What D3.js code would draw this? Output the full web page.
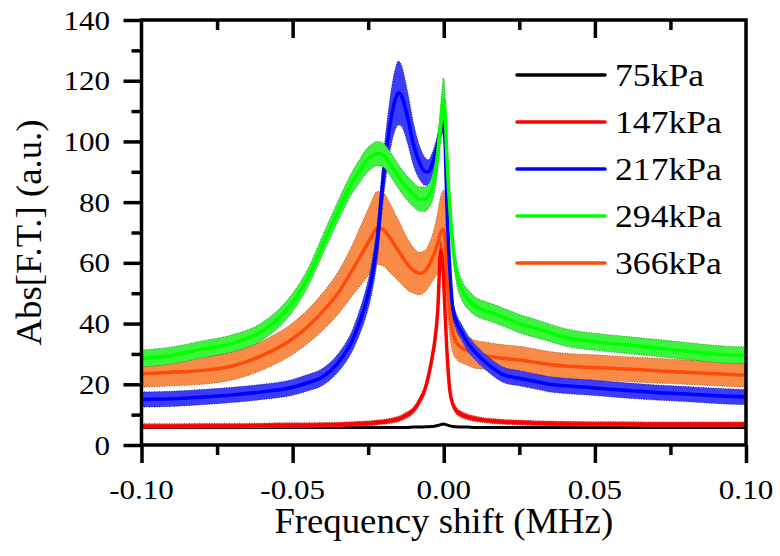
<!DOCTYPE html>
<html>
<head>
<meta charset="utf-8">
<script src="https://cdn.jsdelivr.net/npm/d3@7"></script>
<style>
  html, body { margin: 0; padding: 0; background: #fff; }
  svg { display: block; }
</style>
</head>
<body>
<svg id="chart" width="780" height="556"></svg>
<script>
// ---------------- data ----------------
const freq = [-0.10,-0.09,-0.08,-0.07,-0.06,-0.05,-0.045,-0.04,-0.035,-0.03,-0.028,-0.026,-0.024,-0.022,-0.020,-0.018,-0.016,-0.015,-0.014,-0.012,-0.010,-0.008,-0.006,-0.005,-0.004,-0.003,-0.002,-0.001,0,0.0005,0.001,0.002,0.003,0.004,0.006,0.008,0.010,0.013,0.016,0.02,0.025,0.03,0.035,0.04,0.05,0.06,0.07,0.08,0.09,0.10];

const mean75 = [5.8,5.8,5.8,5.8,5.8,5.8,5.8,5.8,5.8,5.8,5.8,5.8,5.8,5.8,5.8,5.8,5.8,5.8,5.8,5.8,5.9,5.9,6.0,6.0,6.1,6.2,6.4,6.7,6.9,6.8,6.6,6.3,6.1,6.0,5.9,5.9,5.8,5.8,5.8,5.8,5.8,5.8,5.8,5.8,5.8,5.8,5.8,5.8,5.8,5.8];

const mean147 = [6.2,6.2,6.3,6.3,6.4,6.5,6.5,6.6,6.7,6.9,7.0,7.1,7.2,7.4,7.6,7.9,8.3,8.6,9.0,10.0,11.5,14.5,19,23,28,34,44,64,54,42,32,18,13.5,11.5,10,9.2,8.7,8.2,7.9,7.6,7.4,7.2,7.1,7.0,6.9,6.9,6.8,6.8,6.8,6.8];
const err147 = [0.8,0.8,0.8,0.8,0.8,0.8,0.8,0.8,0.8,0.8,0.8,0.8,0.8,0.8,0.8,0.8,0.9,0.9,0.9,1.0,1.0,1.2,1.4,1.6,1.8,2.0,2.4,3.2,3.0,2.6,2.2,1.6,1.3,1.1,1.0,0.9,0.9,0.8,0.8,0.8,0.8,0.8,0.8,0.8,0.8,0.8,0.8,0.8,0.8,0.8];

const mean217 = [15,15.2,15.8,16.5,17.5,19,20.5,22.5,27,35,40,46,54,67,88,104,114,116,115,108,99,93,90,90,92,95,99,104,106,98,80,58,45,41,37,33.5,31,28,25.5,23,22,21,20,19.5,18.8,18,17.3,16.8,16.2,15.8];
const err217 = [2.5,2.5,2.5,2.5,2.5,2.6,2.7,2.8,3,3.5,4,4.5,5,6,7,8.5,10,10.5,10,8.5,7,5.5,4.5,4,3.8,3.6,3.4,3.2,3,3,3,2.8,2.8,2.7,2.6,2.6,2.5,2.5,2.5,2.5,2.5,2.5,2.5,2.5,2.5,2.5,2.5,2.5,2.5,2.5];

const mean294 = [28.5,29.5,31.5,33.5,37.5,47,55,66,77,87,90,93,95,96,95.5,93,90,88.5,87,84.5,82.5,81,81,82,84,88,96,106,114,108,96,78,66,58,51,48,46,44.5,43.5,42,40,38.5,37,35.5,34,33,32,31,30,29.5];
const err294 = [2.8,2.8,2.8,2.8,2.9,3,3,3.2,3.4,3.6,3.8,4,4,4,4,4,4,4,4,4,4,4,4,4,4.2,4.5,5,6,7,6.5,5.5,4.5,4,3.6,3.3,3.2,3.1,3,3,3,3,3,2.9,2.9,2.8,2.8,2.8,2.8,2.8,2.8];

const mean366 = [23.5,24,24.5,26,29.5,35,39,44,50,58,61.5,65,68.5,71.5,71,68.5,65.5,64,62.5,59.5,57.5,56.5,57.5,59,61,63.5,66.5,70,71,66,56,44,37,34,32,31,30,29.5,29,28.5,28,27.3,26.5,26,25.5,25,24.5,24,23.5,23];
const err366 = [4.5,4.5,4.5,4.6,4.8,5.2,5.6,6.2,7,8.5,9.5,10.5,11.5,12,12,11.5,10.5,10,9.5,8.5,7.5,7,6.8,7,7.5,8.5,10,12,13,12,10,8,6.5,5.5,5,4.8,4.6,4.5,4.5,4.5,4.5,4.4,4.3,4.2,4.2,4.1,4.1,4,4,4];

const seriesNames = ["75kPa","147kPa","217kPa","294kPa","366kPa"];
const lineColors  = ["#000000","#ff0000","#0000ff","#00ff00","#ff4a0a"];
const bandColors  = [null,"#ff3a3a","#3c3cff","#3cf43c","#f98b48"];
const edgeColors  = [null,"#8a0000","#00006a","#1a6a1a","#8a3a10"];

const xTicks = [-0.10,-0.05,0.00,0.05,0.10];
const xMinor = [-0.075,-0.025,0.025,0.075];
const yTicks = [0,20,40,60,80,100,120,140];
const yMinor = [10,30,50,70,90,110,130];
const xTitle = "Frequency shift (MHz)";
const yTitle = "Abs[F.T.] (a.u.)";

// ---------------- layout ----------------
const FONT = "\"Liberation Serif\", \"Times New Roman\", Times, serif";
const svg = d3.select("#chart");
const L = 141.5, R = 746, T = 20, B = 445;
const SX = 1.15; // horizontal stretch of text in the reference
const x = d3.scaleLinear().domain([-0.10, 0.10]).range([L, R]);
const y = d3.scaleLinear().domain([0, 140]).range([B, T]);

svg.append("defs").append("clipPath").attr("id","clip")
  .append("rect").attr("x",L).attr("y",T).attr("width",R-L).attr("height",B-T);

const plot = svg.append("g").attr("clip-path","url(#clip)");

const means = [mean75, mean147, mean217, mean294, mean366];
const errs  = [null, err147, err217, err294, err366];

function rows(i){ return freq.map((f,k)=>({f, m: means[i][k], e: errs[i] ? errs[i][k] : 0})); }

const area = d3.area().curve(d3.curveMonotoneX)
  .x(d=>x(d.f)).y0(d=>y(d.m-d.e)).y1(d=>y(d.m+d.e));
const edgeTop = d3.line().curve(d3.curveMonotoneX).x(d=>x(d.f)).y(d=>y(d.m+d.e));
const edgeBot = d3.line().curve(d3.curveMonotoneX).x(d=>x(d.f)).y(d=>y(d.m-d.e));
const line = d3.line().curve(d3.curveMonotoneX).x(d=>x(d.f)).y(d=>y(d.m));

const order = [0,4,2,3,1];
order.forEach(i=>{
  const d = rows(i);
  const g = plot.append("g");
  if (errs[i]) {
    g.append("path").datum(d).attr("d",area).attr("fill",bandColors[i]).attr("stroke","none");
    [edgeTop, edgeBot].forEach(fn=>{
      g.append("path").datum(d).attr("d",fn).attr("fill","none")
        .attr("stroke",edgeColors[i]).attr("stroke-width",0.8).attr("stroke-dasharray","1,1.5");
    });
  }
  g.append("path").datum(d).attr("d",line).attr("fill","none")
    .attr("stroke",lineColors[i]).attr("stroke-width", i===0 ? 3 : 3.5)
    .attr("stroke-linejoin","round");
});

// ---------------- axes ----------------
const axW = 3.5;
function styleAxis(g){
  g.select(".domain").remove();
  g.selectAll(".tick line").attr("stroke","#000").attr("stroke-width",axW);
  g.selectAll(".tick text").remove();
}
svg.append("g").attr("transform",`translate(0,${B})`)
  .call(d3.axisBottom(x).tickValues(xTicks).tickSize(18)).call(styleAxis);
svg.append("g").attr("transform",`translate(0,${B})`)
  .call(d3.axisBottom(x).tickValues(xMinor).tickSize(10)).call(styleAxis);
svg.append("g").attr("transform",`translate(0,${T})`)
  .call(d3.axisTop(x).tickValues(xTicks.slice(1,-1)).tickSize(-18)).call(styleAxis);
svg.append("g").attr("transform",`translate(0,${T})`)
  .call(d3.axisTop(x).tickValues(xMinor).tickSize(-10)).call(styleAxis);
svg.append("g").attr("transform",`translate(${L},0)`)
  .call(d3.axisLeft(y).tickValues(yTicks).tickSize(18)).call(styleAxis);
svg.append("g").attr("transform",`translate(${L},0)`)
  .call(d3.axisLeft(y).tickValues(yMinor).tickSize(10)).call(styleAxis);

svg.append("rect").attr("x",L).attr("y",T).attr("width",R-L).attr("height",B-T)
  .attr("fill","none").attr("stroke","#000").attr("stroke-width",axW);

function txt(sel){ return sel.style("font-family",FONT).attr("fill","#000"); }

// tick labels
const fmt = v => d3.format(".2f")(v).replace("\u2212","-");
xTicks.forEach(v=>{
  svg.append("text").call(txt).attr("transform",`translate(${x(v)},499) scale(${SX},1)`)
    .attr("text-anchor","middle").attr("font-size",27).text(fmt(v));
});
yTicks.forEach(v=>{
  svg.append("text").call(txt).attr("transform",`translate(110,${y(v)+9.5}) scale(${SX},1)`)
    .attr("text-anchor","end").attr("font-size",27).text(v);
});

// axis titles
svg.append("text").call(txt).attr("transform",`translate(${(L+R)/2},533) scale(1.05,1)`)
  .attr("text-anchor","middle").attr("font-size",35).text(xTitle);
svg.append("text").call(txt).attr("transform",`translate(41,${(T+B)/2}) rotate(-90) scale(1.05,1)`)
  .attr("text-anchor","middle").attr("font-size",35).text(yTitle);

// legend
const legY0 = 75, legDy = 47;
seriesNames.forEach((n,i)=>{
  const ly = legY0 + i*legDy;
  svg.append("line").attr("x1",517).attr("x2",605).attr("y1",ly).attr("y2",ly)
    .attr("stroke",lineColors[i]).attr("stroke-width",3.5).attr("stroke-linecap","round");
  svg.append("text").call(txt).attr("transform",`translate(615,${ly+11}) scale(${SX},1)`)
    .attr("font-size",31).text(n);
});
</script>
</body>
</html>
